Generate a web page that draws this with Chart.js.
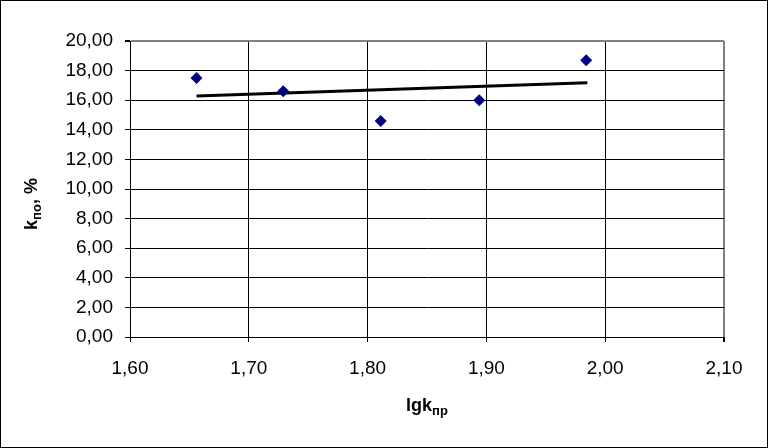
<!DOCTYPE html>
<html lang="ru">
<head>
    <meta charset="UTF-8">
    <title>k по от lgk пр</title>
    <script src="https://cdn.jsdelivr.net/npm/chart.js"></script>
    <style>
        body, html {
            margin: 0;
            padding: 0;
            background: #fff;
            overflow: hidden;
        }
        #wrap {
            width: 769px;
            height: 448px;
        }
    </style>
</head>
<body>
    <div id="wrap"><canvas id="chart"></canvas></div>
    <script>
        // measured points
        const lgkValues = [1.656, 1.729, 1.811, 1.894, 1.984];
        const kpoValues = [17.5, 16.6, 14.6, 16.0, 18.7];
        // trend line ends
        const trendX = [1.656, 1.985];
        const trendY = [16.28, 17.18];
        const xTicks = [1.6, 1.7, 1.8, 1.9, 2.0, 2.1];
        const yTicks = [0, 2, 4, 6, 8, 10, 12, 14, 16, 18, 20];

        const FONT = '"Liberation Sans", Arial, sans-serif';
        const fmt = v => v.toFixed(2).replace('.', ',');

        // text with a subscript part, drawn at a point (centered)
        function drawSubText(ctx, parts, cx, cy, rotate) {
            ctx.save();
            ctx.translate(cx, cy);
            if (rotate) ctx.rotate(-Math.PI / 2);
            ctx.fillStyle = '#000';
            ctx.textBaseline = 'alphabetic';
            let total = 0;
            parts.forEach(p => {
                ctx.font = 'bold ' + p.size + 'px ' + FONT;
                p.w = ctx.measureText(p.t).width;
                total += p.w;
            });
            let x = -total / 2;
            parts.forEach(p => {
                ctx.font = 'bold ' + p.size + 'px ' + FONT;
                ctx.fillText(p.t, x, 6 + (p.sub ? 4 : 0));
                x += p.w;
            });
            ctx.restore();
        }

        const framePlugin = {
            id: 'frame',
            beforeDraw(chart) {
                const ctx = chart.ctx;
                ctx.save();
                ctx.fillStyle = '#fff';
                ctx.fillRect(0, 0, chart.width, chart.height);
                ctx.strokeStyle = '#000';
                ctx.lineWidth = 1;
                ctx.strokeRect(0.5, 0.5, chart.width - 2, chart.height - 1);
                ctx.restore();
            },
            afterDraw(chart) {
                const ctx = chart.ctx;
                const a = chart.chartArea;
                drawSubText(ctx, [
                    { t: 'k', size: 18 },
                    { t: 'по', size: 13, sub: true },
                    { t: ', %', size: 18 }
                ], 31, 204, true);
                drawSubText(ctx, [
                    { t: 'lgk', size: 18 },
                    { t: 'пр', size: 13, sub: true }
                ], (a.left + a.right) / 2, 405, false);
            }
        };

        new Chart(document.getElementById('chart'), {
            type: 'scatter',
            data: {
                datasets: [
                    {
                        label: 'kпо',
                        data: lgkValues.map((x, i) => ({ x: x, y: kpoValues[i] })),
                        pointStyle: 'rectRot',
                        pointRadius: 6,
                        backgroundColor: '#000080',
                        borderColor: '#000080',
                        borderWidth: 0
                    },
                    {
                        label: 'trend',
                        type: 'line',
                        data: trendX.map((x, i) => ({ x: x, y: trendY[i] })),
                        borderColor: '#000',
                        borderWidth: 3,
                        pointRadius: 0,
                        fill: false
                    }
                ]
            },
            options: {
                responsive: true,
                maintainAspectRatio: false,
                animation: false,
                layout: { padding: { top: 41, right: 45, left: 0, bottom: 0 } },
                plugins: {
                    legend: { display: false },
                    tooltip: { enabled: false }
                },
                scales: {
                    x: {
                        type: 'linear',
                        min: 1.6,
                        max: 2.1,
                        afterBuildTicks: s => { s.ticks = xTicks.map(v => ({ value: v })); },
                        afterFit: s => { s.height = 111; },
                        ticks: {
                            color: '#000',
                            font: { family: FONT, size: 19 },
                            padding: 15,
                            callback: v => fmt(v)
                        },
                        grid: {
                            color: c => (c.tick && c.tick.value >= 2.1) ? '#808080' : '#000',
                            lineWidth: c => (c.tick && c.tick.value >= 2.1) ? 2 : 1,
                            tickLength: 5,
                            tickColor: '#000'
                        },
                        border: { color: '#000', width: 1 }
                    },
                    y: {
                        min: 0,
                        max: 20,
                        afterBuildTicks: s => { s.ticks = yTicks.map(v => ({ value: v })); },
                        afterFit: s => { s.width = 130; },
                        ticks: {
                            color: '#000',
                            font: { family: FONT, size: 19 },
                            padding: 12,
                            callback: v => fmt(v)
                        },
                        grid: {
                            color: c => (c.tick && c.tick.value >= 20) ? '#808080' : '#000',
                            lineWidth: c => (c.tick && c.tick.value >= 20) ? 2 : 1,
                            tickLength: 5,
                            tickColor: '#000'
                        },
                        border: { color: '#000', width: 1 }
                    }
                }
            },
            plugins: [framePlugin]
        });
    </script>
</body>
</html>
